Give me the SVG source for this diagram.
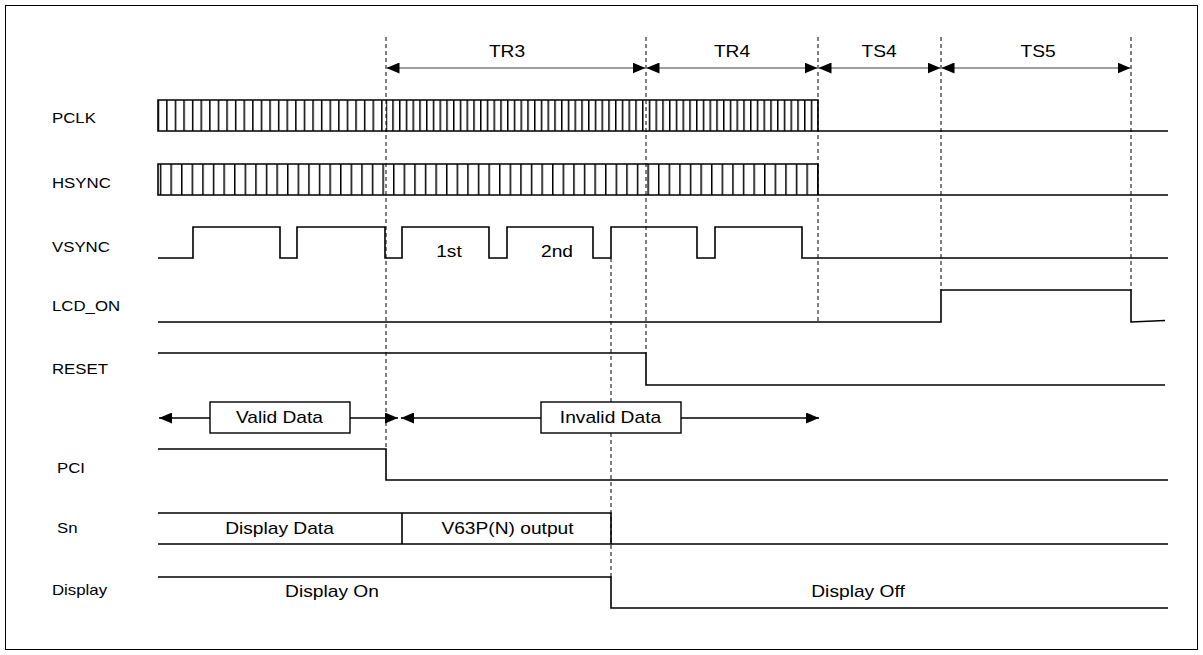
<svg xmlns="http://www.w3.org/2000/svg" width="1203" height="655" viewBox="0 0 1203 655">
  <style>
    .wave { fill: none; stroke: #000; stroke-width: 1.6; stroke-linejoin: miter; }
    .guide { fill: none; stroke: #000; stroke-width: 1; stroke-dasharray: 4 3; }
    .span { fill: none; stroke: #7f7f7f; stroke-width: 1.6; marker-start: url(#ah); marker-end: url(#ah); }
    .ptr { fill: none; stroke: #000; stroke-width: 1.4; marker-end: url(#ah); }
    .box { fill: #fff; stroke: #000; stroke-width: 1.4; }
    .lbl { font-family: "Liberation Sans", Arial, sans-serif; font-size: 14px; fill: #000; }
    .txt { font-family: "Liberation Sans", Arial, sans-serif; font-size: 16px; fill: #000; text-anchor: middle; }
  </style>
  <defs>
    <marker id="ah" markerUnits="userSpaceOnUse" markerWidth="13" markerHeight="11" refX="13" refY="5.5" orient="auto-start-reverse">
      <path d="M0,0 L13,5.5 L0,11 z" fill="#000"/>
    </marker>
    <!-- clock edge hatching -->
    <pattern id="clkA" patternUnits="userSpaceOnUse" x="157.5" y="0" width="8.6" height="10">
      <rect x="0" y="0" width="1.5" height="10" fill="#000"/>
    </pattern>
    <pattern id="clkB" patternUnits="userSpaceOnUse" x="385.5" y="0" width="6.75" height="10">
      <rect x="0" y="0" width="1.5" height="10" fill="#000"/>
    </pattern>
    <pattern id="hsy" patternUnits="userSpaceOnUse" x="159.8" y="0" width="10.6" height="10">
      <rect x="0" y="0" width="1.5" height="10" fill="#000"/>
    </pattern>
  </defs>

  <rect x="5.5" y="5.5" width="1192" height="644" fill="#fff" stroke="#000" stroke-width="1"/>

  <!-- timing guides -->
  <g id="guides">
    <line class="guide" x1="386" y1="37" x2="386" y2="449"/>
    <line class="guide" x1="646" y1="37" x2="646" y2="353"/>
    <line class="guide" x1="818" y1="37" x2="818" y2="322"/>
    <line class="guide" x1="941" y1="37" x2="941" y2="290"/>
    <line class="guide" x1="1131" y1="37" x2="1131" y2="290"/>
    <line class="guide" x1="611" y1="258" x2="611" y2="577"/>
  </g>

  <!-- interval spans -->
  <g id="connectors">
    <line class="span" x1="386.5" y1="68" x2="645.5" y2="68"/>
    <line class="span" x1="646.5" y1="68" x2="817.5" y2="68"/>
    <line class="span" x1="818.5" y1="68" x2="940.5" y2="68"/>
    <line class="span" x1="941.5" y1="68" x2="1130.5" y2="68"/>
    <line class="ptr" x1="210" y1="418" x2="159" y2="418"/>
    <line class="ptr" x1="350" y1="418" x2="398" y2="418"/>
    <line class="ptr" x1="541" y1="418" x2="401" y2="418"/>
    <line class="ptr" x1="681" y1="418" x2="819" y2="418"/>
  </g>

  <g id="span-labels">
    <text class="txt" transform="translate(507 57) scale(1.2 1)">TR3</text>
    <text class="txt" transform="translate(732 57) scale(1.2 1)">TR4</text>
    <text class="txt" transform="translate(879 57) scale(1.2 1)">TS4</text>
    <text class="txt" transform="translate(1038 57) scale(1.2 1)">TS5</text>
  </g>

  <g id="sig-pclk">
    <text class="lbl" transform="translate(52 123) scale(1.2 1)">PCLK</text>
    <rect x="158" y="100" width="228" height="31" fill="url(#clkA)"/>
    <rect x="386" y="100" width="432" height="31" fill="url(#clkB)"/>
    <path class="wave" d="M158,100 H818 V131 H158 Z M818,131 H1168"/>
  </g>

  <g id="sig-hsync">
    <text class="lbl" transform="translate(52 188) scale(1.2 1)">HSYNC</text>
    <rect x="158" y="164" width="660" height="31" fill="url(#hsy)"/>
    <path class="wave" d="M158,164 H818 V195 H158 Z M818,195 H1168"/>
  </g>

  <g id="sig-vsync">
    <text class="lbl" transform="translate(52 252) scale(1.2 1)">VSYNC</text>
    <path class="wave" d="M158,258 H193 V227 H280 V258 H297 V227 H385 V258 H402 V227 H489 V258 H507 V227 H593 V258 H611 V227 H697 V258 H715 V227 H802 V258 H1168"/>
    <text class="txt" transform="translate(449 257) scale(1.2 1)">1st</text>
    <text class="txt" transform="translate(557 257) scale(1.2 1)">2nd</text>
  </g>

  <g id="sig-lcd-on">
    <text class="lbl" transform="translate(52 311) scale(1.2 1)">LCD_ON</text>
    <path class="wave" d="M158,322 H941 V290 H1131 V322 L1165,320.5"/>
  </g>

  <g id="sig-reset">
    <text class="lbl" transform="translate(52 374) scale(1.2 1)">RESET</text>
    <path class="wave" d="M158,353 H646 V385 H1165"/>
  </g>

  <g id="valid-data">
    <rect class="box" x="210" y="402" width="140" height="31"/>
    <text class="txt" transform="translate(279.5 423) scale(1.2 1)">Valid Data</text>
  </g>

  <g id="invalid-data">
    <rect class="box" x="541" y="402" width="140" height="31"/>
    <text class="txt" transform="translate(610.5 423) scale(1.2 1)">Invalid Data</text>
  </g>

  <g id="sig-pci">
    <text class="lbl" transform="translate(57 473) scale(1.2 1)">PCI</text>
    <path class="wave" d="M158,449 H386 V480 H1168"/>
  </g>

  <g id="sig-sn">
    <text class="lbl" transform="translate(57 533) scale(1.2 1)">Sn</text>
    <path class="wave" d="M158,513 H611 V544 M158,544 H1168 M402,513 V544"/>
    <text class="txt" transform="translate(279.5 534) scale(1.2 1)">Display Data</text>
    <text class="txt" transform="translate(507.5 534) scale(1.2 1)">V63P(N) output</text>
  </g>

  <g id="sig-display">
    <text class="lbl" transform="translate(52 595) scale(1.2 1)">Display</text>
    <path class="wave" d="M158,577 H611 V608 H1168"/>
    <text class="txt" transform="translate(332 597) scale(1.2 1)">Display On</text>
    <text class="txt" transform="translate(858 597) scale(1.2 1)">Display Off</text>
  </g>
</svg>
